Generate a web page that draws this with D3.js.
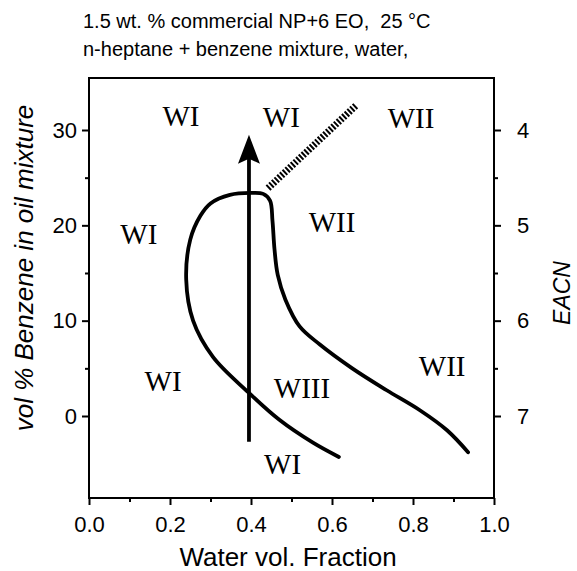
<!DOCTYPE html>
<html><head><meta charset="utf-8">
<script src="https://cdn.jsdelivr.net/npm/d3@7"></script>
<style>
body{margin:0;background:#fff;}
text{fill:#000;}
</style>
</head><body>
<svg id="c" width="577" height="571"></svg>
<script>
// ---- data ----
const titleLines = ["1.5 wt. % commercial NP+6 EO,  25 \u00B0C", "n-heptane + benzene mixture, water,"];
const xTicks = [0.0, 0.2, 0.4, 0.6, 0.8, 1.0];
const xMinorTicks = [0.1, 0.3, 0.5, 0.7, 0.9];
const yTicks = [0, 10, 20, 30];
const yMinorTicks = [5, 15, 25];
const eacnTicks = [4, 5, 6, 7];
const eacnMinorTicks = [4.5, 5.5, 6.5];
// phase boundary (water fraction, vol % benzene)
const boundaryX = [0.617, 0.553, 0.47, 0.393, 0.306, 0.257, 0.240, 0.250, 0.275, 0.30, 0.348, 0.40, 0.43, 0.447, 0.453, 0.458, 0.466, 0.485, 0.52, 0.57, 0.65, 0.735, 0.817, 0.884, 0.936];
const boundaryY = [-4.3, -2.8, -0.4, 2.5, 6.2, 10.0, 14.3, 18.5, 21.0, 22.3, 23.2, 23.4, 23.3, 22.6, 20.5, 17.5, 14.8, 12.2, 9.4, 7.5, 5.0, 2.7, 0.6, -1.5, -3.8];
// hatched line
const hatchX = [0.442, 0.66];
const hatchY = [23.9, 32.6];
// arrow (scan path)
const arrowX = [0.395, 0.395];
const arrowY = [-2.7, 29.5];
// region labels
const labelText = ["WI", "WI", "WII", "WI", "WII", "WI", "WIII", "WII", "WI"];
const labelX = [0.227, 0.475, 0.795, 0.123, 0.600, 0.183, 0.526, 0.872, 0.478];
const labelY = [31.5, 31.4, 31.2, 19.1, 20.3, 3.7, 2.9, 5.2, -5.1];

// ---- layout ----
const svg = d3.select("#c");
const L = 89, R = 494, T = 78, B = 498;
const x = d3.scaleLinear().domain([0, 1]).range([L, R]);
const y = d3.scaleLinear().domain([0, 30]).range([416, 130]);
const yMin = y.invert(B), yMax = y.invert(T);
y.domain([yMin, yMax]).range([B, T]);
const e = d3.scaleLinear().domain([7 - yMin / 10, 7 - yMax / 10]).range([B, T]);

const sans = "'Liberation Sans', Arial, Helvetica, sans-serif";
const serif = "'Liberation Serif', 'Times New Roman', serif";

// title
svg.append("g").selectAll("text").data(titleLines).join("text")
  .attr("x", 83).attr("y", (d, i) => 28 + i * 28)
  .attr("font-family", sans).attr("font-size", 20)
  .attr("xml:space", "preserve")
  .text(d => d);

// frame
svg.append("rect").attr("x", L).attr("y", T).attr("width", R - L).attr("height", B - T)
  .attr("fill", "none").attr("stroke", "#000").attr("stroke-width", 2);

// axes
function styleAxis(g) {
  g.select(".domain").remove();
  g.selectAll("line").attr("stroke", "#000").attr("stroke-width", 2);
  g.selectAll("text").attr("font-family", sans).attr("font-size", 22).attr("fill", "#000");
}
svg.append("g").attr("transform", `translate(0,${B})`)
  .call(d3.axisBottom(x).tickValues(xTicks).tickFormat(d3.format(".1f")).tickSize(7).tickPadding(11))
  .call(styleAxis);
svg.append("g").attr("transform", `translate(0,${B})`)
  .call(d3.axisBottom(x).tickValues(xMinorTicks).tickFormat("").tickSize(4))
  .call(styleAxis);
svg.append("g").attr("transform", `translate(${L},0)`)
  .call(d3.axisLeft(y).tickValues(yTicks).tickFormat(d3.format("d")).tickSize(7).tickPadding(5))
  .call(styleAxis);
svg.append("g").attr("transform", `translate(${L},0)`)
  .call(d3.axisLeft(y).tickValues(yMinorTicks).tickFormat("").tickSize(4))
  .call(styleAxis);
svg.append("g").attr("transform", `translate(${R},0)`)
  .call(d3.axisRight(e).tickValues(eacnTicks).tickFormat(d3.format("d")).tickSize(7).tickPadding(16))
  .call(styleAxis);
svg.append("g").attr("transform", `translate(${R},0)`)
  .call(d3.axisRight(e).tickValues(eacnMinorTicks).tickFormat("").tickSize(4))
  .call(styleAxis);

// axis titles
svg.append("text").attr("x", 288).attr("y", 566).attr("text-anchor", "middle")
  .attr("font-family", sans).attr("font-size", 26).text("Water vol. Fraction");
svg.append("text").attr("transform", `translate(33,268) rotate(-90)`)
  .attr("text-anchor", "middle").attr("font-family", sans).attr("font-style", "italic")
  .attr("font-size", 26).text("vol % Benzene in oil mixture");
svg.append("text").attr("transform", `translate(570,293) rotate(-90)`)
  .attr("text-anchor", "middle").attr("font-family", sans).attr("font-style", "italic")
  .attr("font-size", 23).text("EACN");

// boundary curve
const bpts = boundaryX.map((d, i) => [d, boundaryY[i]]);
svg.append("path").datum(bpts)
  .attr("d", d3.line().x(d => x(d[0])).y(d => y(d[1])).curve(d3.curveCatmullRom.alpha(0.5)))
  .attr("fill", "none").attr("stroke", "#000").attr("stroke-width", 3.8)
  .attr("stroke-linecap", "round").attr("stroke-linejoin", "round");

// hatched line
svg.append("line")
  .attr("x1", x(hatchX[0])).attr("y1", y(hatchY[0]))
  .attr("x2", x(hatchX[1])).attr("y2", y(hatchY[1]))
  .attr("stroke", "#000").attr("stroke-width", 7).attr("stroke-dasharray", "2,1.7");

// arrow
const ax = x(arrowX[0]), ay0 = y(arrowY[0]), ay1 = y(arrowY[1]);
svg.append("line").attr("x1", ax).attr("y1", ay0).attr("x2", ax).attr("y2", ay1 + 20)
  .attr("stroke", "#000").attr("stroke-width", 3.8);
svg.append("path")
  .attr("d", `M${ax},${ay1} L${ax - 11},${ay1 + 29} L${ax},${ay1 + 24} L${ax + 11},${ay1 + 29} Z`)
  .attr("fill", "#000");

// region labels
svg.append("g").selectAll("text").data(labelText).join("text")
  .attr("x", (d, i) => x(labelX[i])).attr("y", (d, i) => y(labelY[i]))
  .attr("dy", "0.34em")
  .attr("text-anchor", "middle").attr("font-family", serif).attr("font-size", 29)
  .text(d => d);
</script>
</body></html>
